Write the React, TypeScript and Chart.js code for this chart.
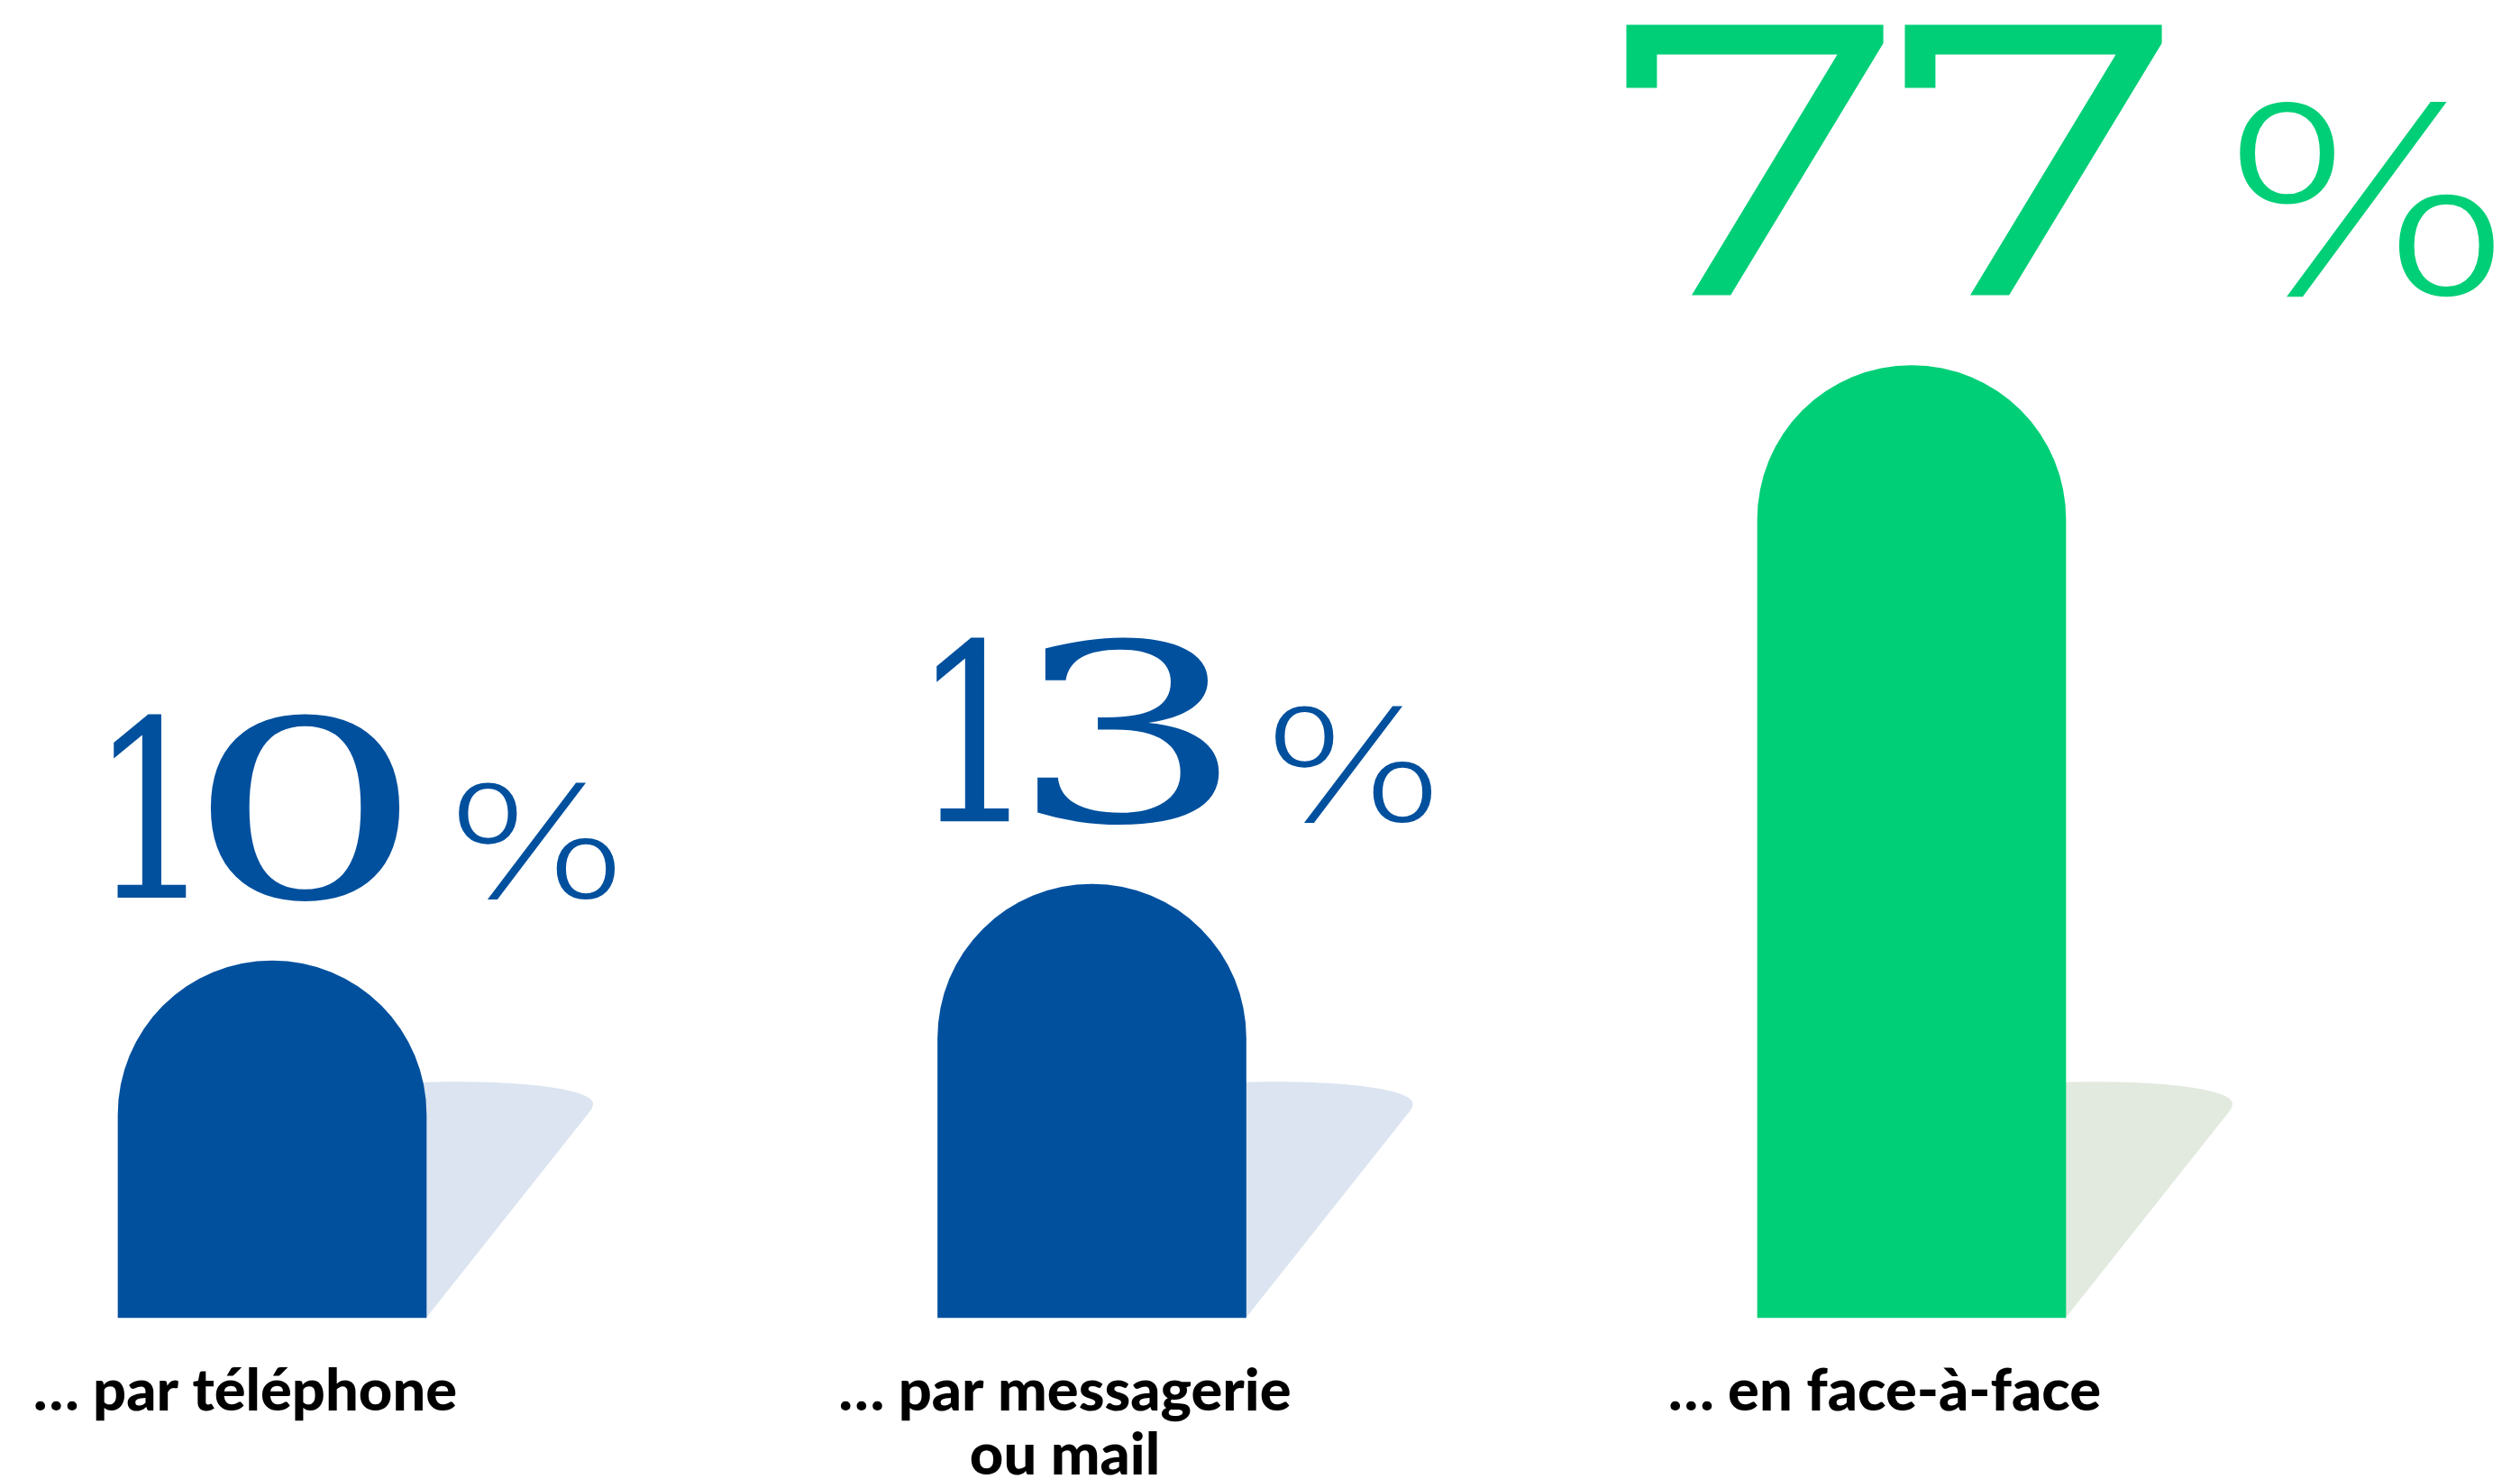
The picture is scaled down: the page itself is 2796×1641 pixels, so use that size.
import React, { useEffect, useRef } from "react";
import { Chart, registerables } from "chart.js";

Chart.register(...registerables);

const categories: (string | string[])[] = [
  "… par téléphone",
  ["… par messagerie", "ou mail"],
  "… en face-à-face",
];
const values: number[] = [10, 13, 77];
const barColors: string[] = ["#00509e", "#00509e", "#00cf77"];
const shadowColors: string[] = ["#dbe4f0", "#dbe4f0", "#e2eadf"];

const W = 2796;
const H = 1641;

// glyph ink widths, in units of cap height (display-face look)
const glyphWidths: Record<string, number> = { "1": 0.42, "0": 1.07, "3": 1.035, "7": 0.99 };

function drawNumber(
  ctx: CanvasRenderingContext2D,
  text: string,
  cx: number,
  baseline: number,
  cap: number
): number {
  const size = cap / 0.729;
  ctx.font = `${size}px "DejaVu Serif"`;
  ctx.textAlign = "left";
  ctx.textBaseline = "alphabetic";
  const glyphs = text.split("").map((c) => {
    const m = ctx.measureText(c);
    const inkW = m.actualBoundingBoxLeft + m.actualBoundingBoxRight;
    const tw = (glyphWidths[c] ?? 0.8) * cap;
    return { c, l: m.actualBoundingBoxLeft, sx: tw / inkW, tw };
  });
  const gapAfter = (c: string) => (c === "7" ? 0.04 : 0.125) * cap;
  let total = 0;
  glyphs.forEach((g, i) => {
    total += g.tw;
    if (i > 0) total += gapAfter(glyphs[i - 1].c);
  });
  let x = cx - total / 2;
  glyphs.forEach((g, i) => {
    if (i > 0) x += gapAfter(glyphs[i - 1].c);
    ctx.save();
    ctx.translate(x, baseline);
    ctx.scale(g.sx, 1);
    ctx.fillText(g.c, g.l, 0);
    ctx.restore();
    x += g.tw;
  });
  return cx + total / 2;
}

function drawPercent(
  ctx: CanvasRenderingContext2D,
  left: number,
  bottom: number,
  h: number,
  w: number
) {
  const fam = `200 {S}px "DejaVu Sans"`;
  ctx.font = fam.replace("{S}", "100");
  const m0 = ctx.measureText("%");
  const inkH0 = m0.actualBoundingBoxAscent + m0.actualBoundingBoxDescent;
  const size = (100 * h) / inkH0;
  ctx.font = fam.replace("{S}", String(size));
  const m = ctx.measureText("%");
  const inkW = m.actualBoundingBoxLeft + m.actualBoundingBoxRight;
  const sx = w / inkW;
  ctx.save();
  ctx.translate(left, bottom - m.actualBoundingBoxDescent);
  ctx.scale(sx, 1);
  ctx.textAlign = "left";
  ctx.textBaseline = "alphabetic";
  ctx.fillText("%", m.actualBoundingBoxLeft, 0);
  ctx.restore();
}

const shadowPlugin = {
  id: "barShadows",
  beforeDatasetsDraw(chart: any) {
    const meta = chart.getDatasetMeta(0);
    const ctx = chart.ctx as CanvasRenderingContext2D;
    meta.data.forEach((el: any, i: number) => {
      const p = el.getProps(["x", "width", "base"], true);
      const s = p.width / 342;
      const R = p.x + p.width / 2;
      const B = p.base;
      const top = B - 262 * s;
      ctx.save();
      ctx.fillStyle = shadowColors[i];
      ctx.beginPath();
      ctx.moveTo(R - 12, top + 1);
      ctx.bezierCurveTo(R + 115 * s, top - 3 * s, R + 184 * s, top + 10 * s, R + 185 * s, top + 24 * s);
      ctx.quadraticCurveTo(R + 185 * s, top + 30 * s, R + 180 * s, top + 35 * s);
      ctx.lineTo(R, B);
      ctx.lineTo(R - 12, B);
      ctx.closePath();
      ctx.fill();
      ctx.restore();
    });
  },
};

const valueLabelPlugin = {
  id: "valueLabels",
  afterDatasetsDraw(chart: any) {
    const meta = chart.getDatasetMeta(0);
    const ctx = chart.ctx as CanvasRenderingContext2D;
    const maxV = Math.max(...values);
    meta.data.forEach((el: any, i: number) => {
      const v = values[i];
      const isMax = v === maxV;
      const k = isMax ? 1.5 : 1;
      const pk = isMax ? 1.67 : 1;
      const baseline = el.y - (isMax ? 78 : 70);
      const cx = el.x - 17;
      ctx.save();
      ctx.fillStyle = barColors[i];
      const inkRight = drawNumber(ctx, String(v), cx, baseline, 200 * k);
      drawPercent(ctx, inkRight + 62 * (isMax ? 1.2 : 1), baseline + 2, 130 * pk, 174 * pk);
      ctx.restore();
    });
  },
};

export default function App() {
  const ref = useRef<HTMLCanvasElement | null>(null);
  useEffect(() => {
    document.body.style.margin = "0";
    const canvas = ref.current;
    if (!canvas) return;
    const chart = new Chart(canvas, {
      type: "bar",
      data: {
        labels: categories as any,
        datasets: [
          {
            data: values,
            backgroundColor: barColors,
            borderWidth: 0,
            borderRadius: { topLeft: 171, topRight: 171, bottomLeft: 0, bottomRight: 0 },
            borderSkipped: "start",
            barThickness: 342,
            clip: false as any,
          },
        ],
      },
      options: {
        responsive: false,
        animation: false,
        devicePixelRatio: 1,
        layout: { padding: { left: 302, right: 675, top: 0, bottom: 0 } },
        plugins: {
          legend: { display: false },
          tooltip: { enabled: false },
          title: { display: false },
        },
        scales: {
          x: {
            type: "category",
            offset: false,
            grid: { display: false, drawTicks: false },
            border: { display: false },
            afterFit: (scale: any) => {
              scale.height = 179;
              scale.paddingLeft = 0;
              scale.paddingRight = 0;
            },
            ticks: {
              color: "#000000",
              padding: 46,
              labelOffset: -30,
              maxRotation: 0,
              minRotation: 0,
              autoSkip: false,
              font: { family: "Lato", weight: "900", size: 65, lineHeight: 1.1 },
            },
          },
          y: {
            type: "logarithmic",
            display: false,
            min: 2.941,
            max: 269.7,
          },
        },
      },
      plugins: [shadowPlugin, valueLabelPlugin],
    });
    return () => chart.destroy();
  }, []);
  return (
    <div style={{ width: W, height: H, overflow: "hidden", background: "#ffffff" }}>
      <canvas ref={ref} width={W} height={H} style={{ display: "block" }} />
    </div>
  );
}
